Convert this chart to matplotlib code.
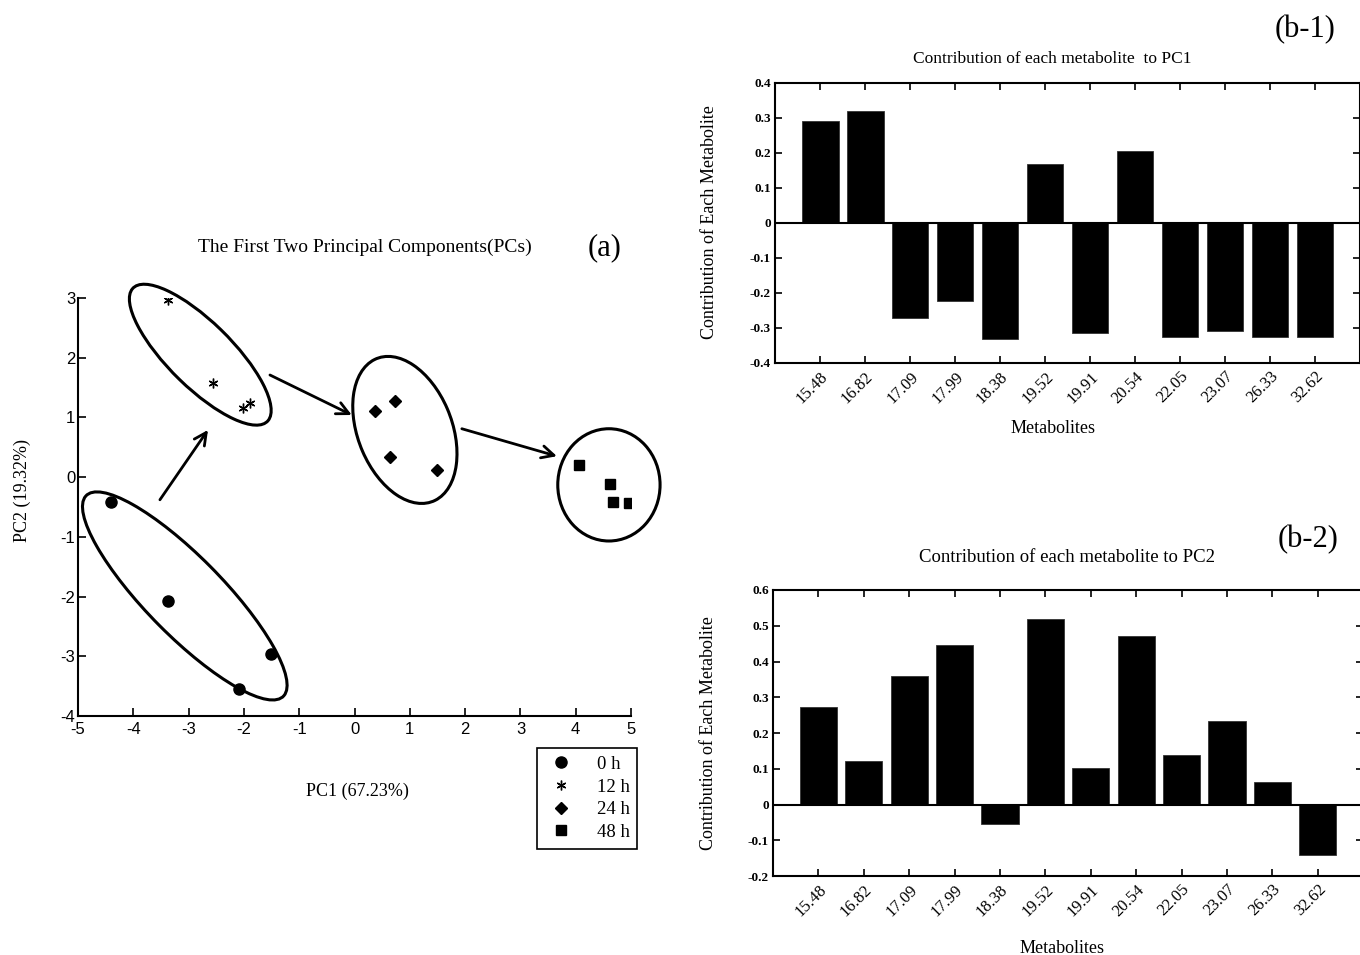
import numpy as np
import matplotlib.pyplot as plt
from matplotlib.patches import Ellipse
from matplotlib.ticker import FuncFormatter

plt.rcParams['axes.unicode_minus'] = False

# PCA scores
t0_x = [-4.40, -3.37, -1.51, -2.09]
t0_y = [-0.42, -2.08, -2.96, -3.55]
t12_x = [-3.37, -2.56, -1.89, -2.01]
t12_y = [2.97, 1.58, 1.24, 1.16]
t24_x = [0.37, 0.73, 0.64, 1.49]
t24_y = [1.11, 1.27, 0.34, 0.12]
t48_x = [4.06, 4.62, 4.67, 4.96]
t48_y = [0.20, -0.12, -0.42, -0.44]
group_labels = ['0 h', '12 h', '24 h', '48 h']

# metabolite contributions (panels b-1, b-2)
metabolites = ['15.48', '16.82', '17.09', '17.99', '18.38', '19.52',
               '19.91', '20.54', '22.05', '23.07', '26.33', '32.62']
pc1_contrib = [0.291, 0.320, -0.272, -0.222, -0.331, 0.168,
               -0.315, 0.206, -0.327, -0.310, -0.327, -0.327]
pc2_contrib = [0.274, 0.121, 0.360, 0.446, -0.055, 0.518,
               0.101, 0.471, 0.138, 0.234, 0.063, -0.141]

SERIF = 'Liberation Serif'
SANS = 'Liberation Sans'

fig = plt.figure(figsize=(13.6, 9.55), dpi=100)

# ---------------- panel (a) ----------------
ax = fig.add_axes([0.0574, 0.2503, 0.4066, 0.4377])
ax.plot(t0_x, t0_y, 'o', color='black', ms=8, ls='none', label=group_labels[0])
ax.plot(t12_x, t12_y, marker=(6, 2, 0), color='black', ms=7, mew=1.0, ls='none', label=group_labels[1])
ax.plot(t24_x, t24_y, 'D', color='black', ms=6.5, ls='none', label=group_labels[2])
ax.plot(t48_x, t48_y, 's', color='black', ms=7.5, ls='none', label=group_labels[3])

# group outlines: (cx, cy, width, height, angle)
outlines = [(-3.07, -1.99, 4.9, 1.35, -43),
            (-2.79, 2.05, 3.3, 1.12, -42),
            (0.91, 0.79, 2.6, 1.69, -65),
            (4.60, -0.13, 1.85, 1.88, 0)]
for cx, cy, w, h, a in outlines:
    ax.add_patch(Ellipse((cx, cy), w, h, angle=a, fill=False, ec='black', lw=2.2, clip_on=False))

arrows = [((-3.52, -0.38), (-2.65, 0.79)),
          ((-1.53, 1.71), (-0.05, 1.04)),
          ((1.94, 0.81), (3.66, 0.35))]
for tail, head in arrows:
    ax.annotate('', xy=head, xytext=tail,
                arrowprops=dict(arrowstyle='->', color='black', lw=2, mutation_scale=22, shrinkA=0, shrinkB=0))

ax.set_xlim(-5, 5)
ax.set_ylim(-4, 3)
ax.set_xticks(range(-5, 6))
ax.set_yticks(range(-4, 4))
ax.spines['top'].set_visible(False)
ax.spines['right'].set_visible(False)
for s in ('left', 'bottom'):
    ax.spines[s].set_linewidth(1.5)
ax.tick_params(direction='in', length=6, width=1.2, labelsize=12, pad=2)
ax.tick_params(axis='x', pad=4)
for lab in ax.get_xticklabels() + ax.get_yticklabels():
    lab.set_fontfamily(SANS)

ax.set_xlabel('PC1 (67.23%)', fontfamily=SERIF, fontsize=13)
ax.xaxis.set_label_coords(0.505, -0.16)
ax.set_ylabel('PC2 (19.32%)', fontfamily=SERIF, fontsize=13)
ax.yaxis.set_label_coords(-0.085, 0.54)
ax.text(0.519, 1.122, 'The First Two Principal Components(PCs)', transform=ax.transAxes,
        ha='center', va='center', fontfamily=SERIF, fontsize=14)
ax.text(0.953, 1.12, '(a)', transform=ax.transAxes, ha='center', va='center',
        fontfamily=SERIF, fontsize=22)

leg = ax.legend(loc='upper left', bbox_to_anchor=(0.83, -0.077), borderaxespad=0,
                fancybox=False, edgecolor='black', framealpha=1,
                prop={'family': SERIF, 'size': 13.5}, labelspacing=0.3,
                handletextpad=1.0, borderpad=0.4, handlelength=1.8)
leg.get_frame().set_linewidth(1.2)


# ---------------- panels (b-1) and (b-2) ----------------
def tick_fmt(v, p):
    v = round(v, 2)
    return '0' if v == 0 else f'{v:g}'


def contrib_panel(rect, values, ylim, yticks, title, title_xy, ylabel_xy, xlabel_xy, title_size):
    bx = fig.add_axes(rect)
    pos = np.arange(1, len(metabolites) + 1)
    bx.bar(pos, values, width=0.82, color='black', edgecolor='#333333', lw=0.6)
    bx.axhline(0, color='black', lw=1.5)
    bx.set_xlim(0, 13)
    bx.set_ylim(*ylim)
    bx.set_xticks(pos)
    bx.set_xticklabels(metabolites, rotation=45, ha='right', va='top', rotation_mode='anchor',
                       fontfamily=SERIF, fontsize=12)
    bx.set_yticks(yticks)
    bx.yaxis.set_major_formatter(FuncFormatter(tick_fmt))
    for lab in bx.get_yticklabels():
        lab.set_fontfamily(SERIF)
        lab.set_fontweight('bold')
    bx.tick_params(axis='y', labelsize=9.5, pad=3)
    bx.tick_params(direction='in', length=5, width=1.2, top=True, right=True)
    bx.tick_params(axis='x', pad=4)
    for s in bx.spines.values():
        s.set_linewidth(1.5)
    bx.text(title_xy[0], title_xy[1], title, transform=bx.transAxes, ha='center', va='center',
            fontfamily=SERIF, fontsize=title_size)
    bx.set_ylabel('Contribution of Each Metabolite', fontfamily=SERIF, fontsize=13)
    bx.yaxis.set_label_coords(*ylabel_xy)
    bx.set_xlabel('Metabolites', fontfamily=SERIF, fontsize=13)
    bx.xaxis.set_label_coords(*xlabel_xy)
    return bx


contrib_panel([0.5699, 0.6199, 0.4301, 0.2932], pc1_contrib, (-0.4, 0.4),
              np.round(np.arange(-0.4, 0.41, 0.1), 1),
              'Contribution of each metabolite  to PC1', (0.4735, 1.086),
              (-0.097, 0.504), (0.475, -0.205), 12.5)
contrib_panel([0.5684, 0.0827, 0.434, 0.2995], pc2_contrib, (-0.2, 0.6),
              np.round(np.arange(-0.2, 0.61, 0.1), 1),
              'Contribution of each metabolite to PC2', (0.498, 1.115),
              (-0.095, 0.5), (0.49, -0.222), 13.5)

fig.text(0.9596, 0.9686, '(b-1)', ha='center', va='center', fontfamily=SERIF, fontsize=22)
fig.text(0.9618, 0.4346, '(b-2)', ha='center', va='center', fontfamily=SERIF, fontsize=22)

fig.savefig('out.png', dpi=100)
